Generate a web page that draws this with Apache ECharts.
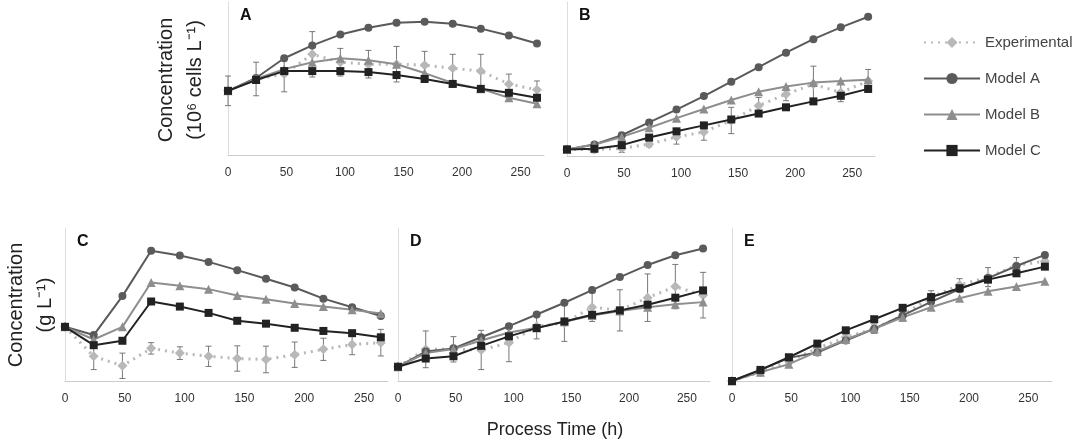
<!DOCTYPE html>
<html>
<head>
<meta charset="utf-8">
<script src="https://cdn.jsdelivr.net/npm/echarts@6/dist/echarts.min.js"></script>
<style>html,body{margin:0;padding:0;background:#fff}#main{width:1080px;height:444px}</style>
</head>
<body>
<div id="main"></div>
<script>
// process time (h)
var hours = [0, 24, 48, 72, 96, 120, 144, 168, 192, 216, 240, 264];
var xTicks = [0, 50, 100, 150, 200, 250];

// panel A
var aModelA = [65, 78, 98, 111, 122, 129, 134, 135, 133, 128, 121, 113];
var aModelB = [65, 77, 87, 94, 98, 96, 92, 83, 73, 67, 58, 52];
var aModelC = [65, 76, 85, 85, 85, 84, 81, 77, 72, 67, 63, 58];
var aExp = [65, 77, 82, 102, 94, 92, 92, 91, 88, 85, 72, 66];
var aErr = [15, 17, 18, 23, 14, 14, 18, 14, 14, 17, 10, 9];
// panel B
var bModelA = [20, 35, 63, 102, 141, 182, 226, 270, 314, 355, 391, 423];
var bModelB = [20, 35, 58, 86, 115, 143, 170, 195, 211, 223, 228, 232];
var bModelC = [20, 22, 33, 56, 75, 93, 111, 129, 148, 166, 183, 204];
var bExp = [20, 20, 23, 36, 58, 73, 108, 153, 188, 218, 193, 228];
var bErr = [10, 10, 12, 8, 22, 25, 40, 25, 20, 55, 28, 35];
// panel C
var cModelA = [171, 145, 268, 411, 396, 376, 350, 323, 295, 260, 233, 205];
var cModelB = [171, 131, 171, 311, 301, 290, 270, 258, 245, 235, 225, 213];
var cModelC = [171, 113, 127, 251, 235, 215, 190, 181, 168, 158, 151, 138];
var cExp = [171, 78, 48, 103, 88, 78, 71, 68, 83, 100, 115, 121];
var cErr = [0, 42, 40, 18, 20, 32, 40, 42, 40, 35, 32, 42];
// panel D
var dModelA = [45, 93, 103, 138, 173, 210, 247, 287, 328, 366, 397, 418];
var dModelB = [45, 88, 101, 128, 153, 168, 187, 207, 221, 233, 242, 249];
var dModelC = [45, 71, 78, 111, 141, 167, 188, 209, 223, 241, 263, 286];
var dExp = [45, 100, 100, 98, 121, 173, 183, 233, 223, 263, 298, 271];
var dErr = [0, 58, 40, 62, 60, 40, 58, 45, 65, 75, 70, 72];
// panel E
var eModelA = [0, 35, 73, 90, 128, 165, 207, 250, 290, 325, 363, 398];
var eModelB = [0, 28, 53, 93, 131, 165, 201, 233, 261, 283, 298, 315];
var eModelC = [0, 35, 75, 118, 160, 195, 231, 265, 293, 320, 340, 361];
var eExp = [0, 28, 63, 103, 138, 165, 207, 265, 303, 328, 365, 378];
var eErr = [0, 8, 10, 12, 15, 15, 18, 20, 20, 30, 25, 10];

var panels = [
    {letter: 'A', left: 228, top: 2, width: 316, height: 153, ymax: 155, d: [aExp, aErr, aModelA, aModelB, aModelC]},
    {letter: 'B', left: 567, top: 2, width: 308, height: 154, ymax: 468, d: [bExp, bErr, bModelA, bModelB, bModelC]},
    {letter: 'C', left: 65, top: 228, width: 323, height: 153, ymax: 483, d: [cExp, cErr, cModelA, cModelB, cModelC]},
    {letter: 'D', left: 398, top: 228, width: 312, height: 153, ymax: 483, d: [dExp, dErr, dModelA, dModelB, dModelC]},
    {letter: 'E', left: 732, top: 228, width: 320, height: 153, ymax: 483, d: [eExp, eErr, eModelA, eModelB, eModelC]}
];

function pairs(arr) {
    return arr.map(function(v, i) { return [hours[i], v]; });
}

function errRender(params, api) {
    var x = api.value(0), y = api.value(1), e = api.value(2);
    if (!e) return;
    var hi = api.coord([x, y + e]), lo = api.coord([x, y - e]);
    var st = {stroke: '#777', lineWidth: 1};
    return {type: 'group', children: [
        {type: 'line', shape: {x1: hi[0], y1: hi[1], x2: lo[0], y2: lo[1]}, style: st},
        {type: 'line', shape: {x1: hi[0] - 3, y1: hi[1], x2: hi[0] + 3, y2: hi[1]}, style: st},
        {type: 'line', shape: {x1: lo[0] - 3, y1: lo[1], x2: lo[0] + 3, y2: lo[1]}, style: st}
    ]};
}

var grids = [], xAxes = [], yAxes = [], series = [], graphics = [];
panels.forEach(function(p, i) {
    grids.push({left: p.left, top: p.top, width: p.width, height: p.height});
    xAxes.push({
        type: 'value', gridIndex: i, min: 0, max: 270, interval: 50,
        axisLine: {lineStyle: {color: '#ccc'}}, axisTick: {show: false}, splitLine: {show: false},
        axisLabel: {color: '#333', fontSize: 12, margin: 12, formatter: function(v) { return xTicks.indexOf(v) >= 0 ? v : ''; }}
    });
    yAxes.push({
        type: 'value', gridIndex: i, min: 0, max: p.ymax,
        axisLine: {show: true, lineStyle: {color: '#ddd'}}, axisTick: {show: false},
        axisLabel: {show: false}, splitLine: {show: false}
    });
    series.push({
        type: 'custom', xAxisIndex: i, yAxisIndex: i, renderItem: errRender, silent: true,
        data: p.d[0].map(function(v, k) { return [hours[k], v, p.d[1][k]]; }), z: 1
    });
    series.push({
        name: 'Experimental', type: 'line', xAxisIndex: i, yAxisIndex: i, data: pairs(p.d[0]),
        symbol: 'diamond', symbolSize: 10, itemStyle: {color: '#b8b8b8'},
        lineStyle: {color: '#b8b8b8', width: 3, type: [2, 5]}, z: 2
    });
    series.push({
        name: 'Model A', type: 'line', xAxisIndex: i, yAxisIndex: i, data: pairs(p.d[2]),
        symbol: 'circle', symbolSize: 8, itemStyle: {color: '#5a5a5a'}, lineStyle: {color: '#5a5a5a', width: 2}, z: 3
    });
    series.push({
        name: 'Model B', type: 'line', xAxisIndex: i, yAxisIndex: i, data: pairs(p.d[3]),
        symbol: 'triangle', symbolSize: 9, itemStyle: {color: '#8e8e8e'}, lineStyle: {color: '#8e8e8e', width: 2}, z: 3
    });
    series.push({
        name: 'Model C', type: 'line', xAxisIndex: i, yAxisIndex: i, data: pairs(p.d[4]),
        symbol: 'rect', symbolSize: 8, itemStyle: {color: '#222'}, lineStyle: {color: '#222', width: 2}, z: 3
    });
    graphics.push({type: 'text', left: p.left + 12, top: p.top + 6,
        style: {text: p.letter, font: 'bold 16px "Liberation Sans", Arial', fill: '#111'}});
});

function vtext(x, y, txt) {
    return {type: 'text', x: x, y: y, rotation: Math.PI / 2,
        style: {text: txt, font: '20px "Liberation Sans", Arial', fill: '#222', align: 'center', verticalAlign: 'middle'}};
}
graphics.push(vtext(166, 80, 'Concentration'));
graphics.push(vtext(195, 80, '(10\u2076 cells L\u207b\u00b9)'));
graphics.push(vtext(16, 305, 'Concentration'));
graphics.push(vtext(45, 305, '(g L\u207b\u00b9)'));
graphics.push({type: 'text', x: 555, y: 430,
    style: {text: 'Process Time (h)', font: '18px "Liberation Sans", Arial', fill: '#222', align: 'center', verticalAlign: 'middle'}});

var chart = echarts.init(document.getElementById('main'));
chart.setOption({
    animation: false,
    grid: grids, xAxis: xAxes, yAxis: yAxes, series: series, graphic: graphics,
    legend: {
        data: ['Experimental', 'Model A', 'Model B', 'Model C'],
        orient: 'vertical', left: 918, top: 30, itemGap: 21, itemWidth: 56, itemHeight: 14,
        textStyle: {fontSize: 15, color: '#444'}
    }
});
</script>
</body>
</html>
